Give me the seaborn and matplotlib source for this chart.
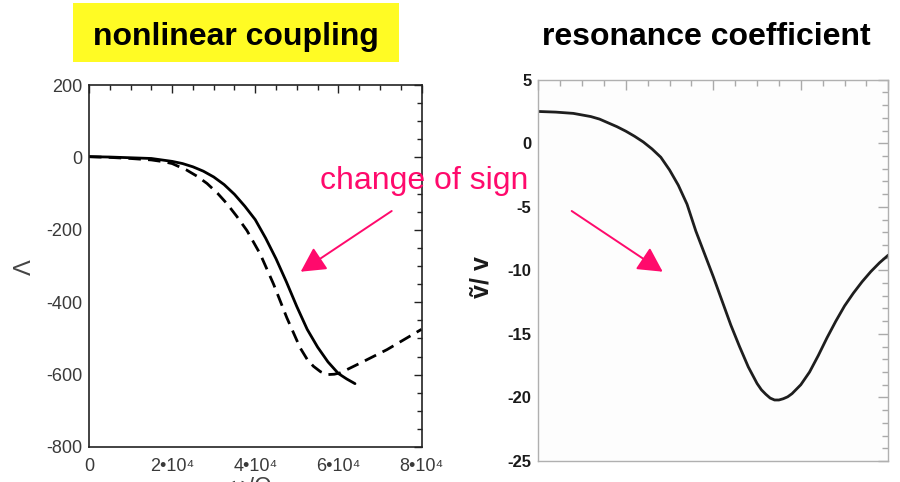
import matplotlib
matplotlib.use("Agg")
import matplotlib.pyplot as plt
from matplotlib.patches import Rectangle, FancyArrowPatch
from matplotlib.ticker import MultipleLocator, FixedLocator
import seaborn as sns
import pandas as pd

# ---- data ---------------------------------------------------------------
# nonlinear coupling Λ versus ω/Ω
lam_solid_x = [0, 5000, 10000, 15000, 20000, 22500, 25000, 27500, 30000, 32500,
               35000, 37500, 40000, 42500, 45000, 47500, 50000, 52500, 55000,
               57500, 60000, 62000, 64000]
lam_solid_y = [2, 1, -1, -3, -11, -17, -26, -38, -54, -75, -102, -135, -172,
               -223, -280, -344, -412, -475, -524, -565, -597, -612, -625]

lam_dash_x = [0, 5000, 10000, 15000, 18000, 20000, 23500, 26000, 28400, 31000,
              33200, 35500, 38000, 41200, 44400, 47600, 50800, 52500, 54000,
              55700, 57300, 59000, 60500, 65300, 71700, 80000]
lam_dash_y = [2, 0, -3, -7, -12, -17, -35, -52, -72, -100, -128, -162, -202,
              -267, -350, -443, -526, -558, -577, -592, -600, -599, -595, -568,
              -531, -475]

# resonance coefficient ṽ/v
res_x = [0, 0.2, 0.4, 0.6, 0.7, 0.8, 0.9, 1.0, 1.1, 1.2, 1.3, 1.4, 1.5, 1.6,
         1.7, 1.8, 1.9, 2.0, 2.1, 2.2, 2.3, 2.4, 2.5, 2.55, 2.6, 2.65, 2.7,
         2.75, 2.8, 2.85, 2.9, 3.0, 3.1, 3.2, 3.3, 3.4, 3.5, 3.6, 3.7, 3.8,
         3.9, 4.0]
res_y = [2.5, 2.45, 2.35, 2.1, 1.9, 1.6, 1.3, 0.95, 0.55, 0.1, -0.45, -1.1,
         -2.1, -3.3, -4.8, -6.9, -8.7, -10.5, -12.4, -14.3, -16.0, -17.6,
         -18.9, -19.4, -19.75, -20.05, -20.2, -20.2, -20.1, -19.95, -19.7,
         -19.0, -18.0, -16.7, -15.3, -14.0, -12.8, -11.8, -10.9, -10.1, -9.4,
         -8.8]

lam_ticks = [200, 0, -200, -400, -600, -800]
lam_ticklabels = ["200", "0", "-200", "-400", "-600", "-800"]
w_ticks = [0, 20000, 40000, 60000, 80000]
w_ticklabels = ["0", "2•10⁴", "4•10⁴", "6•10⁴", "8•10⁴"]
res_ticks = [5, 0, -5, -10, -15, -20, -25]
res_ticklabels = ["5", "0", "-5", "-10", "-15", "-20", "-25"]

# ---- style --------------------------------------------------------------
sns.set_theme(style="white")
plt.rcParams["font.family"] = ["Liberation Sans", "DejaVu Sans"]
plt.rcParams["axes.unicode_minus"] = False
plt.rcParams["lines.solid_joinstyle"] = "round"
plt.rcParams["lines.dash_joinstyle"] = "round"

W, H = 900, 482
fig = plt.figure(figsize=(W / 100, H / 100), dpi=100)
fig.patch.set_facecolor("white")


def fx(px):
    return px / W


def fy(py):
    return (H - py) / H


def axes_rect(left, top, right, bottom):
    return [fx(left), fy(bottom), fx(right) - fx(left), (bottom - top) / H]


pink = "#ff0a6c"

# ---- left panel: nonlinear coupling -------------------------------------
ax1 = fig.add_axes(axes_rect(89, 85, 421.5, 447))
df_s = pd.DataFrame({"w": lam_solid_x, "lam": lam_solid_y})
df_d = pd.DataFrame({"w": lam_dash_x, "lam": lam_dash_y})
sns.lineplot(data=df_s, x="w", y="lam", ax=ax1, color="black", lw=2.0,
             sort=False, estimator=None)
sns.lineplot(data=df_d, x="w", y="lam", ax=ax1, color="black", lw=2.0,
             sort=False, estimator=None, linestyle=(0, (4.5, 2.6)))
ax1.set_xlim(0, 80000)
ax1.set_ylim(-800, 200)
ax1.xaxis.set_major_locator(FixedLocator(w_ticks))
ax1.set_xticklabels(w_ticklabels)
ax1.xaxis.set_minor_locator(MultipleLocator(5000))
ax1.yaxis.set_major_locator(FixedLocator(lam_ticks))
ax1.set_yticklabels(lam_ticklabels)
ax1.yaxis.set_minor_locator(MultipleLocator(50))
ax1.tick_params(which="both", direction="in", top=True, right=True,
                color="#222222", width=1.0)
ax1.tick_params(which="major", length=6, labelsize=13, labelcolor="#3a3a3a",
                pad=5)
ax1.tick_params(which="minor", length=3.5)
ax1.tick_params(axis="x", which="major", pad=8)
for sp in ax1.spines.values():
    sp.set_color("#222222")
    sp.set_linewidth(1.2)
ax1.set_xlabel("")
ax1.set_ylabel("")
fig.text(fx(25), fy(267), "Λ", rotation=90, ha="center", va="center",
         fontsize=17, color="#444444")
fig.text(fx(250), fy(477), "ω/Ω", ha="center", va="top", fontsize=17,
         color="#444444")

# ---- right panel: resonance coefficient ---------------------------------
ax2 = fig.add_axes(axes_rect(538.3, 79.7, 888.3, 461))
df_r = pd.DataFrame({"x": res_x, "r": res_y})
sns.lineplot(data=df_r, x="x", y="r", ax=ax2, color="#1e1e1e", lw=2.0,
             sort=False, estimator=None)
ax2.set_xlim(0, 4)
ax2.set_ylim(-25, 5)
ax2.xaxis.set_major_locator(MultipleLocator(1))
ax2.xaxis.set_minor_locator(MultipleLocator(0.25))
ax2.yaxis.set_major_locator(FixedLocator(res_ticks))
ax2.set_yticklabels(res_ticklabels)
ax2.yaxis.set_minor_locator(MultipleLocator(1))
ax2.set_xticklabels([])
ax2.tick_params(which="both", direction="in", top=True, right=True,
                color="#aaaaaa", width=1.0)
ax2.tick_params(which="major", length=7, labelsize=12, labelcolor="#1a1a1a",
                pad=5)
ax2.tick_params(which="minor", length=4)
for lab in ax2.get_yticklabels():
    lab.set_fontweight("bold")
for sp in ax2.spines.values():
    sp.set_color("#b0b0b0")
    sp.set_linewidth(1.0)
ax2.set_facecolor("#fdfdfd")
ax2.set_xlabel("")
ax2.set_ylabel("")
fig.text(fx(481), fy(277), "ṽ/ v", rotation=90, ha="center", va="center",
         fontsize=18, fontweight="bold", color="#1a1a1a")

# ---- titles and annotation ----------------------------------------------
fig.add_artist(Rectangle((fx(72.7), fy(61.7)), fx(399) - fx(72.7),
                         (61.7 - 3.3) / H, transform=fig.transFigure,
                         facecolor="#fffb24", edgecolor="none", zorder=1))
fig.text(fx(236), fy(45), "nonlinear coupling", ha="center", va="baseline",
         fontsize=23, fontweight="bold", color="black", zorder=2)
fig.text(fx(706), fy(45), "resonance coefficient", ha="center",
         va="baseline", fontsize=23, fontweight="bold", color="black")
fig.text(fx(320), fy(189.3), "change of sign", ha="left", va="baseline",
         fontsize=23, color=pink, zorder=5)

for (x0, y0), (x1, y1) in [((391.7, 211), (300.7, 271.7)),
                           ((571.7, 211), (662.7, 271.7))]:
    fig.add_artist(FancyArrowPatch((fx(x0), fy(y0)), (fx(x1), fy(y1)),
                                   transform=fig.transFigure,
                                   arrowstyle="-|>,head_length=0.75,head_width=0.4",
                                   mutation_scale=20, color=pink, lw=1.4,
                                   shrinkA=0, shrinkB=0, zorder=5))

fig.savefig("out.png", dpi=100)
